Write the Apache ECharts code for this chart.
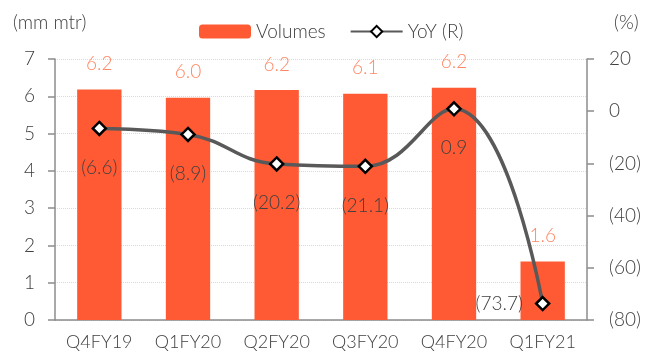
<!DOCTYPE html>
<html>
<head>
<meta charset="utf-8">
<script src="https://cdn.jsdelivr.net/npm/echarts@6/dist/echarts.min.js"></script>
<style>
	html, body { margin: 0; padding: 0; background: #fff; }
	#chart { width: 664px; height: 363px; }
</style>
</head>
<body>
<div id="chart"></div>
<script>
	// data
	var quarters = ['Q4FY19', 'Q1FY20', 'Q2FY20', 'Q3FY20', 'Q4FY20', 'Q1FY21'];
	var volumes = [6.18, 5.96, 6.17, 6.07, 6.23, 1.57];
	var yoy = [-6.6, -8.9, -20.2, -21.1, 0.9, -73.7];
	var leftTicks = [0, 7, 1];     // min, max, interval
	var rightTicks = [-80, 20, 20];

	// where each YoY label sits
	var yoyLabelPos = ['bottom', 'bottom', 'bottom', 'bottom', 'bottom', 'left'];

	var font = 'Lato';
	var fw = 300;
	var textCol = '#404040';

	function paren(v) {
		return v < 0 ? '(' + Math.abs(v).toFixed(1) + ')' : v.toFixed(1);
	}

	var yoyData = yoy.map(function(v, i) {
		return {
			value: v,
			label: {
				position: yoyLabelPos[i],
				distance: yoyLabelPos[i] == 'left' ? 12 : 22
			}
		};
	});

	var myChart = echarts.init(document.getElementById('chart'));
	myChart.setOption({
		animation: false,
		textStyle: { fontFamily: font, fontWeight: fw, color: textCol },
		grid: { left: 55, right: 77, top: 59, bottom: 43 },
		legend: {
			left: 194,
			top: 17,
			itemWidth: 52,
			itemHeight: 14,
			itemGap: 24,
			textStyle: { fontFamily: font, fontWeight: fw, fontSize: 19, color: textCol },
			data: ['Volumes', 'YoY (R)']
		},
		graphic: [{
			type: 'text', left: 13, top: 13,
			style: { text: '(mm mtr)', font: '300 19px Lato', fill: textCol }
		}, {
			type: 'text', left: 614, top: 13,
			style: { text: '(%)', font: '300 19px Lato', fill: textCol }
		}],
		xAxis: {
			type: 'category',
			data: quarters,
			axisLine: { lineStyle: { color: '#8c8c8c', width: 1.5 } },
			axisTick: { length: 7, lineStyle: { color: '#8c8c8c', width: 1.5 } },
			axisLabel: { interval: 0, fontSize: 18, fontWeight: fw, color: textCol, margin: 13 }
		},
		yAxis: [{
			type: 'value',
			min: leftTicks[0], max: leftTicks[1], interval: leftTicks[2],
			axisLine: { show: true, lineStyle: { color: '#8c8c8c', width: 1.5 } },
			axisTick: { show: true, length: 7, lineStyle: { color: '#8c8c8c', width: 1.5 } },
			axisLabel: { fontSize: 19, fontWeight: fw, color: textCol, margin: 20 },
			splitLine: { lineStyle: { color: '#d9d9d9', type: 'dotted' } }
		}, {
			type: 'value',
			min: rightTicks[0], max: rightTicks[1], interval: rightTicks[2],
			axisLine: { show: true, lineStyle: { color: '#8c8c8c', width: 1.5 } },
			axisTick: { show: true, length: 7, lineStyle: { color: '#8c8c8c', width: 1.5 } },
			axisLabel: {
				fontSize: 19, fontWeight: fw, color: textCol, margin: 22,
				formatter: function(v) { return v < 0 ? '(' + Math.abs(v) + ')' : v; }
			},
			splitLine: { show: false }
		}],
		series: [{
			name: 'Volumes',
			type: 'bar',
			barWidth: '50%',
			data: volumes,
			itemStyle: { color: '#ff5a33' },
			label: {
				show: true,
				position: 'top',
				distance: 16,
				fontSize: 19,
				fontWeight: fw,
				color: '#ff8663',
				formatter: function(p) { return p.value.toFixed(1); }
			}
		}, {
			name: 'YoY (R)',
			type: 'line',
			yAxisIndex: 1,
			smooth: 0.45,
			z: 5,
			data: yoyData,
			lineStyle: { color: '#595959', width: 3.5 },
			itemStyle: { color: '#fff', borderColor: '#000', borderWidth: 2.5 },
			symbol: 'diamond',
			symbolSize: 13,
			label: {
				show: true,
				fontSize: 19,
				fontWeight: fw,
				color: textCol,
				formatter: function(p) { return paren(p.value); }
			}
		}]
	});
</script>
</body>
</html>
